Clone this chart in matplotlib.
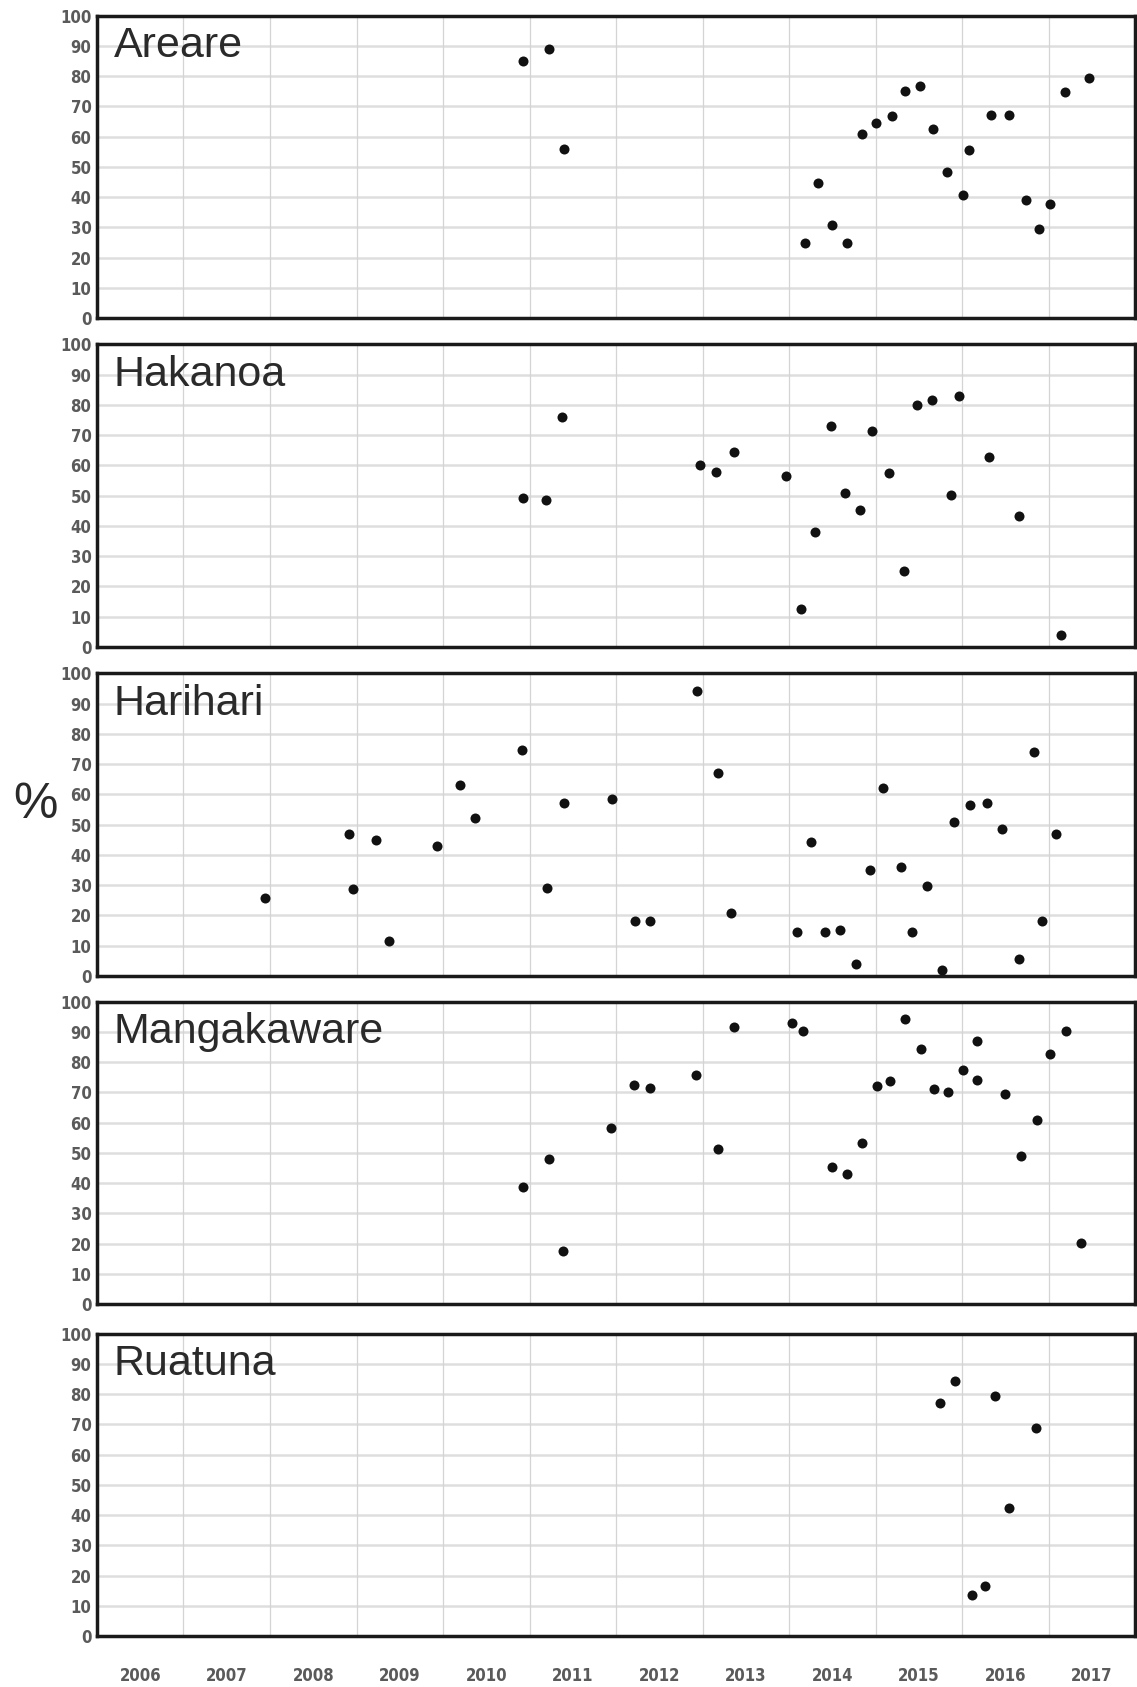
#!/usr/bin/env python3
"""Percent values per lake, 2006-2017, five stacked scatter panels."""

import matplotlib
matplotlib.use("Agg")
import matplotlib.pyplot as plt

years = list(range(2006, 2018))
pct_ticks = list(range(0, 101, 10))

areare_year = [2010.93, 2011.22, 2011.40, 2014.18, 2014.34, 2014.50, 2014.67, 2014.84,
               2015.01, 2015.19, 2015.34, 2015.51, 2015.66, 2015.83, 2016.01, 2016.08,
               2016.33, 2016.54, 2016.74, 2016.89, 2017.02, 2017.19, 2017.47]
areare_pct = [85, 89, 56, 24.7, 44.7, 30.8, 24.7, 60.7, 64.5, 66.7, 74.9, 76.6, 62.4,
              48.3, 40.8, 55.4, 67.2, 67.2, 39, 29.4, 37.8, 74.6, 79.5]

hakanoa_year = [2010.92, 2011.19, 2011.38, 2012.97, 2013.16, 2013.36, 2013.97, 2014.14,
                2014.30, 2014.48, 2014.65, 2014.82, 2014.96, 2015.15, 2015.33, 2015.48,
                2015.65, 2015.87, 2015.96, 2016.31, 2016.66, 2017.14]
hakanoa_pct = [49.4, 48.7, 75.9, 60, 57.9, 64.5, 56.5, 12.7, 38, 73, 50.8, 45.4, 71.3,
               57.5, 25.1, 80, 81.7, 50.2, 83.1, 62.8, 43.2, 4.1]

harihari_year = [2007.94, 2008.91, 2008.96, 2009.22, 2009.38, 2009.93, 2010.20, 2010.37,
                 2010.91, 2011.20, 2011.40, 2011.95, 2012.22, 2012.39, 2012.94, 2013.18,
                 2013.33, 2014.09, 2014.25, 2014.42, 2014.59, 2014.77, 2014.94, 2015.09,
                 2015.29, 2015.42, 2015.59, 2015.77, 2015.91, 2016.09, 2016.29, 2016.46,
                 2016.66, 2016.83, 2016.92, 2017.09]
harihari_pct = [25.6, 47, 28.8, 44.8, 11.6, 43, 63, 52.3, 74.6, 29.1, 57.2, 58.6, 18.2,
                18.2, 94.3, 67, 20.9, 14.4, 44.3, 14.6, 15.1, 4, 35.1, 62.2, 35.9, 14.5,
                29.6, 1.8, 51, 56.5, 57.1, 48.7, 5.7, 73.9, 18, 46.9]

mangakaware_year = [2010.93, 2011.23, 2011.39, 2011.94, 2012.21, 2012.39, 2012.93, 2013.18,
                    2013.36, 2014.03, 2014.16, 2014.50, 2014.67, 2014.84, 2015.02, 2015.17,
                    2015.34, 2015.52, 2015.67, 2015.84, 2016.01, 2016.17, 2016.17, 2016.50,
                    2016.68, 2016.87, 2017.02, 2017.20, 2017.37]
mangakaware_pct = [38.7, 47.9, 17.5, 58.1, 72.5, 71.4, 75.7, 51.3, 91.7, 93, 90.4, 45.4,
                   43, 53.4, 72.1, 73.6, 94.3, 84.3, 71.1, 70.1, 77.3, 87.1, 74.1, 69.3,
                   48.9, 60.9, 82.8, 90.4, 20.1]

ruatuna_year = [2015.75, 2015.92, 2016.12, 2016.27, 2016.38, 2016.54, 2016.85]
ruatuna_pct = [77.2, 84.4, 13.5, 16.5, 79.2, 42.3, 68.7]

lakes = ["Areare", "Hakanoa", "Harihari", "Mangakaware", "Ruatuna"]
series = [
    (areare_year, areare_pct),
    (hakanoa_year, hakanoa_pct),
    (harihari_year, harihari_pct),
    (mangakaware_year, mangakaware_pct),
    (ruatuna_year, ruatuna_pct),
]

# panel bottoms in figure fraction (top to bottom)
bottoms = [0.8115, 0.6165, 0.4215, 0.2270, 0.0302]
left, width, height = 0.0853, 0.913, 0.1793

tick_font = dict(family="DejaVu Sans", weight="bold", size=12, color="#5a5a5a",
                 stretch="condensed")

fig = plt.figure(figsize=(11.37, 16.87), dpi=100)

for i, (name, (xs, ys)) in enumerate(zip(lakes, series)):
    ax = fig.add_axes([left, bottoms[i], width, height])
    ax.set_xlim(2006, 2018)
    ax.set_ylim(0, 100)
    ax.set_yticks(pct_ticks)
    ax.set_yticklabels([str(t) for t in pct_ticks], fontdict=tick_font)
    ax.set_xticks(years[1:])
    ax.set_xticklabels([])
    ax.tick_params(axis="both", which="both", length=0, pad=4)

    for y in pct_ticks[1:-1]:
        ax.axhline(y, color="#dedede", lw=1.8, zorder=0)
    for x in years[1:]:
        ax.axvline(x, color="#d4d4d4", lw=0.9, zorder=0)

    ax.scatter(xs, ys, s=52, color="#111111", zorder=3, linewidths=0)

    for sp in ax.spines.values():
        sp.set_linewidth(2.5)
        sp.set_color("#1a1a1a")

    ax.text(0.016, 0.965, name, transform=ax.transAxes, ha="left", va="top",
            fontsize=31, family="Liberation Sans", color="#2a2a2a")

    if i == len(lakes) - 1:
        ax.set_xticks([y + 0.5 for y in years], minor=True)
        ax.set_xticklabels([str(y) for y in years], minor=True, fontdict=tick_font)
        ax.tick_params(axis="x", which="minor", length=0, pad=22)

fig.text(0.031, 0.523, "%", ha="center", va="center", fontsize=36,
         family="Liberation Sans", color="#2a2a2a")

fig.savefig("out.png", dpi=100)
plt.close(fig)
